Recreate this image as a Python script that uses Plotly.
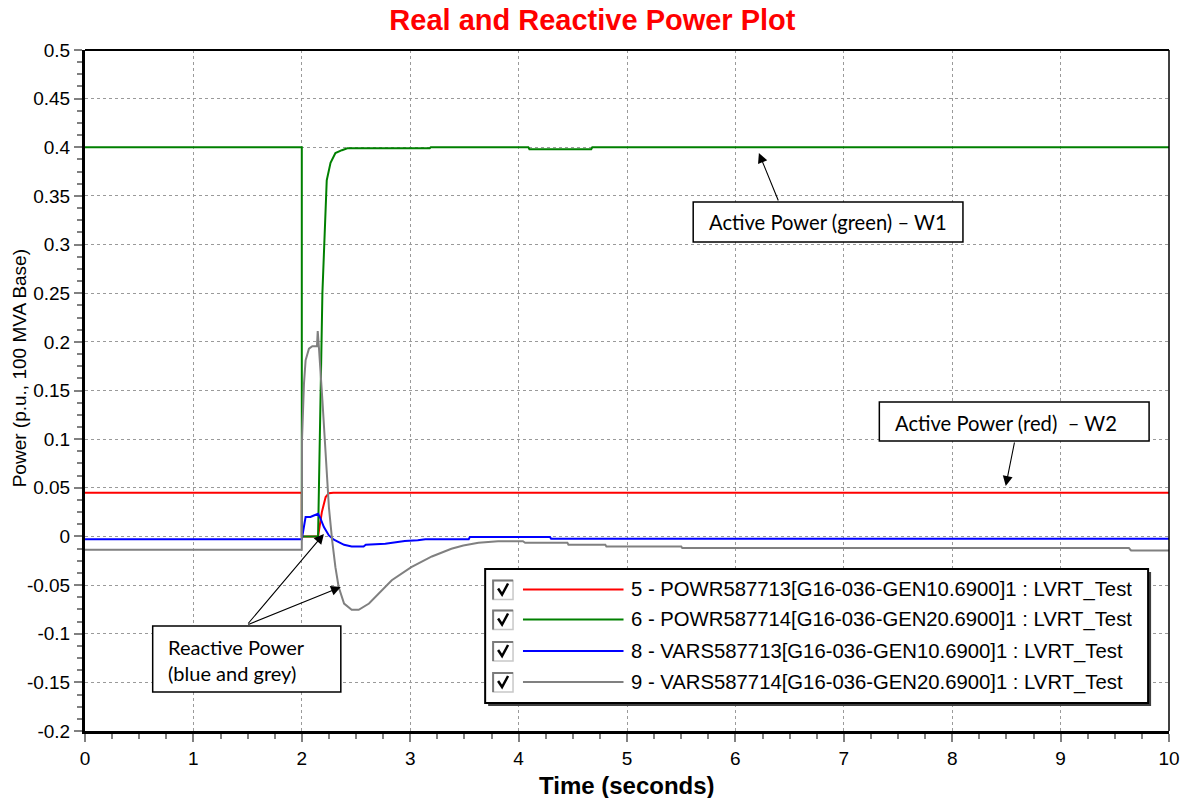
import plotly.graph_objects as go

# ---------------- data ----------------
t_red = [0, 2.0, 2.0, 2.15, 2.185, 2.22, 2.25, 2.29, 10]
p_red = [0.045, 0.045, 0.0, 0.0, 0.025, 0.0405, 0.0445, 0.045, 0.045]

t_green = [0, 2.0, 2.0, 2.15, 2.19, 2.22, 2.23, 2.265, 2.31, 2.37, 2.42, 3.18, 3.19,
           4.09, 4.10, 4.67, 4.68, 10]
p_green = [0.4, 0.4, 0.0, 0.0, 0.25, 0.349, 0.366, 0.384, 0.394, 0.397, 0.399, 0.399, 0.4,
           0.4, 0.398, 0.398, 0.4, 0.4]

t_blue = [0, 2.0, 2.035, 2.08, 2.10, 2.13, 2.15, 2.17, 2.204, 2.25, 2.296, 2.39, 2.46, 2.57,
          2.59, 2.77, 2.95, 3.07, 3.14, 3.54, 3.55, 4.29, 4.30, 10]
q_blue = [-0.0028, -0.0028, 0.020, 0.020, 0.021, 0.022, 0.0233, 0.019, 0.0096, 0.001, -0.0034,
          -0.0086, -0.0103, -0.0103, -0.0086, -0.0075, -0.0048, -0.004, -0.0028, -0.0028,
          -0.0007, -0.0007, -0.0024, -0.0024]

t_grey = [0, 2.0, 2.002, 2.012, 2.02, 2.035, 2.05, 2.066, 2.097, 2.14, 2.147, 2.152, 2.16,
          2.19, 2.22, 2.25, 2.28, 2.31, 2.34, 2.39, 2.46, 2.525, 2.62, 2.71, 2.83, 3.01,
          3.2, 3.38, 3.49, 3.63, 3.81, 4.04, 4.06, 4.45, 4.46, 4.8, 4.81, 5.5, 5.51,
          9.63, 9.65, 10]
q_grey = [-0.0137, -0.0137, 0.10, 0.14, 0.157, 0.181, 0.188, 0.193, 0.1955, 0.1955, 0.211,
          0.196, 0.191, 0.14, 0.078, 0.030, -0.004, -0.0316, -0.052, -0.069, -0.0754,
          -0.0754, -0.069, -0.059, -0.045, -0.0316, -0.0206, -0.0127, -0.0093, -0.0065,
          -0.005, -0.005, -0.0065, -0.0065, -0.0086, -0.0086, -0.0103, -0.0103, -0.012,
          -0.012, -0.0144, -0.0144]

series_names = [
    "5 - POWR587713[G16-036-GEN10.6900]1 : LVRT_Test",
    "6 - POWR587714[G16-036-GEN20.6900]1 : LVRT_Test",
    "8 - VARS587713[G16-036-GEN10.6900]1 : LVRT_Test",
    "9 - VARS587714[G16-036-GEN20.6900]1 : LVRT_Test",
]
series_colors = ["#FF0000", "#008000", "#0000FF", "#808080"]

x_ticks = list(range(0, 11))
y_ticks = [-0.2, -0.15, -0.1, -0.05, 0, 0.05, 0.1, 0.15, 0.2, 0.25, 0.3, 0.35, 0.4, 0.45, 0.5]
y_ticktext = ["-0.2", "-0.15", "-0.1", "-0.05", "0", "0.05", "0.1", "0.15", "0.2", "0.25",
              "0.3", "0.35", "0.4", "0.45", "0.5"]

# ---------------- layout helpers ----------------
W, H = 1192, 798
ML, MR, MT, MB = 85, 18, 50, 67
PW = W - ML - MR
PH = H - MT - MB


def px(xp):
    return (xp - ML) / PW


def py(yp):
    return (H - MB - yp) / PH


ARIAL = "Liberation Sans, Arial, sans-serif"
CALIBRI = "Lato, Carlito, Calibri, sans-serif"

fig = go.Figure()
for tx, vy, col, nm in zip([t_red, t_green, t_blue, t_grey],
                           [p_red, p_green, q_blue, q_grey],
                           series_colors, series_names):
    fig.add_trace(go.Scatter(x=tx, y=vy, mode="lines", name=nm,
                             line=dict(color=col, width=2), showlegend=False,
                             hoverinfo="skip"))

shapes = []
annotations = []

# plot border top / right
shapes.append(dict(type="line", xref="paper", yref="paper", x0=0, x1=1, y0=1, y1=1,
                   line=dict(color="black", width=2)))
shapes.append(dict(type="line", xref="paper", yref="paper", x0=1, x1=1, y0=0, y1=1,
                   line=dict(color="black", width=1.5)))

# ---------------- legend (custom) ----------------
shapes.append(dict(type="rect", xref="paper", yref="paper", x0=px(490), x1=px(1156),
                   y0=py(706), y1=py(572), fillcolor="#404040", line=dict(width=0)))
shapes.append(dict(type="rect", xref="paper", yref="paper", x0=px(487), x1=px(1153),
                   y0=py(703), y1=py(569), fillcolor="white",
                   line=dict(color="black", width=2)))
rows = [589.5, 619.5, 651, 682]
for r, col, nm in zip(rows, series_colors, series_names):
    # checkbox
    shapes.append(dict(type="rect", xref="paper", yref="paper", x0=px(495), x1=px(515),
                       y0=py(r + 10), y1=py(r - 9), fillcolor="white",
                       line=dict(color="#c8c8c8", width=1.5)))
    shapes.append(dict(type="path", xref="paper", yref="paper",
                       path=f"M {px(495)},{py(r + 10)} L {px(495)},{py(r - 9)} L {px(515)},{py(r - 9)}",
                       line=dict(color="#7a7a7a", width=2)))
    shapes.append(dict(type="path", xref="paper", yref="paper",
                       path=f"M {px(500)},{py(r - 1)} L {px(504)},{py(r + 5)} L {px(510)},{py(r - 6)}",
                       line=dict(color="black", width=2.5)))
    # line sample
    shapes.append(dict(type="line", xref="paper", yref="paper", x0=px(525), x1=px(626),
                       y0=py(r), y1=py(r), line=dict(color=col, width=2)))
    annotations.append(dict(xref="paper", yref="paper", x=px(632), y=py(r), text=nm,
                            showarrow=False, xanchor="left", yanchor="middle",
                            font=dict(family=ARIAL, size=20.3, color="black")))

# ---------------- callout boxes ----------------
boxes = [
    (696, 967, 202, 242),
    (883, 1154, 402, 441),
    (153, 342, 626, 692),
]
for x0, x1, y0, y1 in boxes:
    shapes.append(dict(type="rect", xref="paper", yref="paper", x0=px(x0), x1=px(x1),
                       y0=py(y1), y1=py(y0), fillcolor="white",
                       line=dict(color="black", width=1.5)))

annotations.append(dict(xref="paper", yref="paper", x=px(710), y=py(222),
                        text="Active Power (green) \u2013 W1", showarrow=False,
                        xanchor="left", yanchor="middle",
                        font=dict(family=CALIBRI, size=20.2, color="black")))
annotations.append(dict(xref="paper", yref="paper", x=px(897), y=py(423),
                        text="Active Power (red)  \u2013 W2", showarrow=False,
                        xanchor="left", yanchor="middle",
                        font=dict(family=CALIBRI, size=20.2, color="black")))
annotations.append(dict(xref="paper", yref="paper", x=px(166), y=py(660),
                        text="Reactive Power<br>(blue and grey)", showarrow=False,
                        xanchor="left", yanchor="middle", align="left",
                        font=dict(family=CALIBRI, size=20, color="black")))

# ---------------- arrows ----------------
def data_x(xp):
    return (xp - ML) / PW * 10


def data_y(yp):
    return 0.5 - (yp - MT) / PH * 0.7


arrows = [
    (762, 153, 782, 202),
    (1010, 486, 1019, 441),
    (325, 534, 248, 625),
    (342, 587, 248, 625),
]
for hx, hy, tx, ty in arrows:
    annotations.append(dict(x=data_x(hx), y=data_y(hy), xref="x", yref="y",
                            ax=tx - hx, ay=ty - hy, text="", showarrow=True,
                            arrowhead=2, arrowsize=1.8, arrowwidth=1.1,
                            arrowcolor="black"))

# ---------------- titles ----------------
annotations.append(dict(xref="paper", yref="paper", x=px(629), y=py(785),
                        text="<b>Time (seconds)</b>", showarrow=False,
                        xanchor="center", yanchor="middle",
                        font=dict(family=ARIAL, size=24, color="black")))
annotations.append(dict(xref="paper", yref="paper", x=px(19), y=py(368),
                        text="Power (p.u., 100 MVA Base)", showarrow=False,
                        textangle=-90, xanchor="center", yanchor="middle",
                        font=dict(family=ARIAL, size=19, color="black")))

axis_common = dict(
    showline=True, linecolor="black", linewidth=3,
    ticks="outside", ticklen=8, tickwidth=2, tickcolor="#808080",
    showgrid=True, gridcolor="#9a9a9a", griddash="dot", gridwidth=1,
    zeroline=False,
    tickfont=dict(family=ARIAL, size=19, color="black"),
)

fig.update_layout(
    width=W, height=H,
    margin=dict(l=ML, r=MR, t=MT, b=MB),
    paper_bgcolor="white", plot_bgcolor="white",
    title=dict(text="<b>Real and Reactive Power Plot</b>", x=0.497, xref="container",
               xanchor="center", y=1 - 20 / H, yref="container", yanchor="middle",
               font=dict(family=ARIAL, size=29, color="#FF0000")),
    xaxis=dict(range=[0, 10], tickvals=x_ticks, ticktext=[str(v) for v in x_ticks],
               minor=dict(dtick=0.25, ticks="outside", ticklen=5, tickwidth=2,
                          tickcolor="#808080", showgrid=False),
               **axis_common),
    yaxis=dict(range=[-0.2, 0.5], tickvals=y_ticks, ticktext=y_ticktext,
               minor=dict(dtick=0.0125, ticks="outside", ticklen=5, tickwidth=2,
                          tickcolor="#808080", showgrid=False),
               **axis_common),
    shapes=shapes,
    annotations=annotations,
    showlegend=False,
)

fig.write_html("out.html")
